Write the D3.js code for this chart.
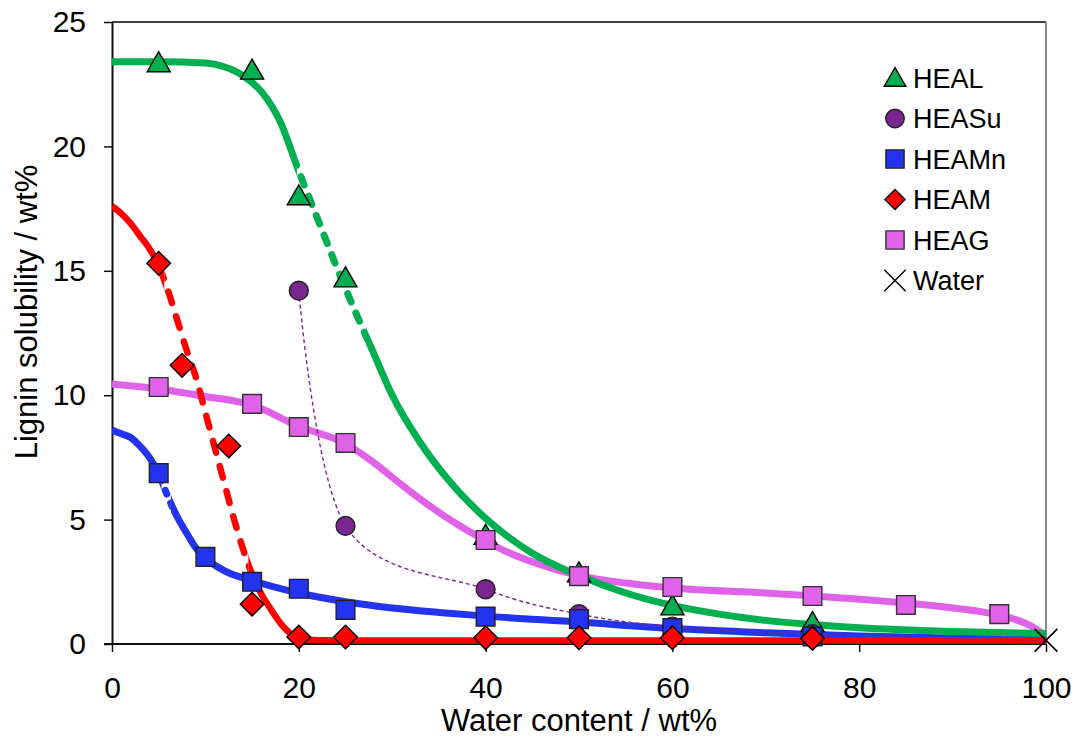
<!DOCTYPE html>
<html>
<head>
<meta charset="utf-8">
<script src="https://cdn.jsdelivr.net/npm/d3@7"></script>
<style>
  html, body { margin: 0; padding: 0; background: #fff; }
  svg { display: block; font-family: "Liberation Sans", Arial, sans-serif; }
</style>
</head>
<body>
<svg id="chart" width="1074" height="738"></svg>
<script>
// ---- measured points (water content wt%, lignin solubility wt%) ----
const healX  = [5, 15, 20, 25, 40, 50, 60, 75];
const healY  = [23.35, 23.05, 18.0, 14.7, 4.35, 2.85, 1.52, 0.85];
const heasuX = [20, 25, 40, 50, 60, 75];
const heasuY = [14.2, 4.75, 2.2, 1.2, 0.7, 0.4];
const heamnX = [5, 10, 15, 20, 25, 40, 50, 60, 75];
const heamnY = [6.87, 3.5, 2.5, 2.22, 1.37, 1.1, 1.0, 0.64, 0.3];
const heamX  = [5, 7.5, 12.5, 15, 20, 25, 40, 50, 60, 75];
const heamY  = [15.3, 11.2, 7.96, 1.6, 0.28, 0.28, 0.25, 0.25, 0.25, 0.22];
const heagX  = [5, 15, 20, 25, 40, 50, 60, 75, 85, 95];
const heagY  = [10.33, 9.65, 8.72, 8.08, 4.18, 2.73, 2.29, 1.93, 1.57, 1.2];
const waterX = [100];
const waterY = [0.15];

// ---- fitted trend curves ----
const healFitX = [0, 5, 10, 12, 14, 16, 18, 20, 22, 24, 26, 28, 30, 33, 36, 40, 45, 50, 55, 60, 65, 70, 75, 80, 90, 100];
const healFitY = [23.4, 23.4, 23.35, 23.2, 22.85, 22.2, 21.0, 19.0, 17.1, 15.2, 13.4, 11.7, 10.0, 8.1, 6.6, 5.05, 3.65, 2.75, 2.05, 1.55, 1.2, 0.95, 0.78, 0.65, 0.5, 0.42];
const heagFitX = [0, 5, 10, 15, 20, 25, 28, 31, 34, 37, 40, 42, 45, 50, 55, 60, 70, 80, 90, 93, 95, 97, 98.5, 99.5, 100];
const heagFitY = [10.45, 10.25, 9.95, 9.6, 8.75, 8.05, 7.3, 6.4, 5.55, 4.8, 4.15, 3.75, 3.3, 2.75, 2.45, 2.25, 2.05, 1.8, 1.45, 1.3, 1.15, 0.95, 0.7, 0.45, 0.3];
const heamnFitX = [0, 1, 2, 3, 4, 5, 6, 7, 8, 9, 10, 12, 15, 20, 25, 30, 35, 40, 50, 60, 70, 80, 90, 100];
const heamnFitY = [8.6, 8.45, 8.3, 7.95, 7.5, 6.85, 5.9, 5.1, 4.45, 3.85, 3.45, 2.95, 2.55, 2.05, 1.7, 1.45, 1.27, 1.12, 0.88, 0.62, 0.45, 0.32, 0.24, 0.2];
const heamFitX = [0, 1, 2, 3, 4, 5, 6, 7, 8, 9, 10, 11, 12, 13, 14, 15, 16, 17, 18, 19, 20, 21, 22, 25, 40, 60, 80, 100];
const heamFitY = [17.6, 17.3, 16.9, 16.4, 15.9, 15.2, 14.2, 13.0, 11.8, 10.7, 9.3, 7.9, 6.5, 5.1, 3.85, 2.8, 2.0, 1.4, 0.85, 0.45, 0.25, 0.17, 0.15, 0.14, 0.14, 0.14, 0.14, 0.14];

// stretches of the fitted curves drawn dashed (x from, x to)
const healDash  = [19.8, 27.2];
const heamDash  = [5.6, 14.6];
const heamnDash = [5.3, 6.3];

// ---- axes ----
const xTicks = [0, 20, 40, 60, 80, 100];
const yTicks = [0, 5, 10, 15, 20, 25];
const xTitle = "Water content / wt%";
const yTitle = "Lignin solubility / wt%";

const legendNames = ["HEAL", "HEASu", "HEAMn", "HEAM", "HEAG", "Water"];

const C = {
  green: "#00B050",
  purple: "#7B2590",
  blue: "#2433F0",
  red: "#FF0000",
  pink: "#E062E8"
};

const svg = d3.select("#chart");
const L = 112, R = 1046, T = 22, B = 644;
const x = d3.scaleLinear().domain([0, 100]).range([L, R]);
const y = d3.scaleLinear().domain([0, 25]).range([B, T]);

const zip = (xs, ys) => xs.map((v, i) => [v, ys[i]]);

// clip regions
const defs = svg.append("defs");
defs.append("clipPath").attr("id", "plot").append("rect")
  .attr("x", L).attr("y", T).attr("width", R - L).attr("height", B - T);
function addRangeClips(id, range) {
  const inside = defs.append("clipPath").attr("id", id + "-in");
  inside.append("rect").attr("x", x(range[0])).attr("y", 0)
    .attr("width", x(range[1]) - x(range[0])).attr("height", 738);
  const outside = defs.append("clipPath").attr("id", id + "-out");
  outside.append("rect").attr("x", 0).attr("y", 0).attr("width", x(range[0])).attr("height", 738);
  outside.append("rect").attr("x", x(range[1])).attr("y", 0)
    .attr("width", 1074 - x(range[1])).attr("height", 738);
}
addRangeClips("heal", healDash);
addRangeClips("heam", heamDash);
addRangeClips("heamn", heamnDash);

// ---- frame ----
svg.append("line").attr("x1", L).attr("x2", R).attr("y1", T).attr("y2", T)
  .attr("stroke", "#000").attr("stroke-width", 1.5);
svg.append("line").attr("x1", R).attr("x2", R).attr("y1", T).attr("y2", B)
  .attr("stroke", "#888").attr("stroke-width", 2);

// ---- axes ----
const xAxis = d3.axisBottom(x).tickValues(xTicks).tickSize(8).tickPadding(25).tickSizeOuter(0);
const yAxis = d3.axisLeft(y).tickValues(yTicks).tickSize(8).tickPadding(18).tickSizeOuter(0);

const gx = svg.append("g").attr("transform", `translate(0,${B})`).call(xAxis);
const gy = svg.append("g").attr("transform", `translate(${L},0)`).call(yAxis);
[gx, gy].forEach(g => {
  g.select(".domain").attr("stroke", "#111").attr("stroke-width", 2);
  g.selectAll(".tick line").attr("stroke", "#111").attr("stroke-width", 1.5);
  g.selectAll(".tick text").attr("fill", "#000").style("font-size", "30px")
    .style("font-family", "'Liberation Sans', Arial, sans-serif");
});
gx.select(".domain").attr("d", `M${L - 8},0H${R}`);

svg.append("text").attr("x", (L + R) / 2).attr("y", 731).attr("text-anchor", "middle")
  .style("font-size", "31px").text(xTitle);
svg.append("text").attr("transform", `translate(37,312) rotate(-90)`)
  .attr("text-anchor", "middle").style("font-size", "31px").text(yTitle);

// ---- fitted curves ----
const fitLine = d3.line().x(d => x(d[0])).y(d => y(d[1])).curve(d3.curveMonotoneX);
const plot = svg.append("g").attr("clip-path", "url(#plot)");

function drawFit(data, color, width, clipId, dash) {
  if (!clipId) {
    plot.append("path").attr("d", fitLine(data)).attr("fill", "none")
      .attr("stroke", color).attr("stroke-width", width);
    return;
  }
  plot.append("g").attr("clip-path", `url(#${clipId}-out)`).append("path")
    .attr("d", fitLine(data)).attr("fill", "none")
    .attr("stroke", color).attr("stroke-width", width);
  plot.append("g").attr("clip-path", `url(#${clipId}-in)`).append("path")
    .attr("d", fitLine(data)).attr("fill", "none")
    .attr("stroke", color).attr("stroke-width", width)
    .attr("stroke-linecap", "round").attr("stroke-dasharray", dash);
}

drawFit(zip(heagFitX, heagFitY), C.pink, 7);
drawFit(zip(heamnFitX, heamnFitY), C.blue, 7, "heamn", "4,10");
drawFit(zip(heamFitX, heamFitY), C.red, 6.5, "heam", "12,14");
drawFit(zip(healFitX, healFitY), C.green, 7, "heal", "9,12");

// HEASu joined through its measured points to the water point
const suLine = d3.line().x(d => x(d[0])).y(d => y(d[1])).curve(d3.curveCatmullRom.alpha(0));
plot.append("path")
  .attr("d", suLine(zip(heasuX.concat(waterX), heasuY.concat(waterY))))
  .attr("fill", "none").attr("stroke", C.purple).attr("stroke-width", 1.4)
  .attr("stroke-dasharray", "4,3");

// ---- markers ----
const sym = {
  tri: d3.symbol().type(d3.symbolTriangle).size(230),
  circ: d3.symbol().type(d3.symbolCircle).size(280),
  sq: d3.symbol().type(d3.symbolSquare).size(350),
  dia: d3.symbol().type(d3.symbolSquare).size(280),
  cross: d3.symbol().type(d3.symbolTimes).size(340)
};

function markers(xs, ys, shape, fill, stroke, rot, dy, sw) {
  svg.append("g").selectAll("path").data(zip(xs, ys)).join("path")
    .attr("d", shape)
    .attr("transform", d => `translate(${x(d[0])},${y(d[1]) + (dy || 0)}) rotate(${rot || 0})`)
    .attr("fill", fill).attr("stroke", stroke).attr("stroke-width", sw || 1.4);
}

markers(healX, healY, sym.tri(), C.green, "#000", 0, 2);
markers(heasuX, heasuY, sym.circ(), C.purple, "#222");
markers(heamnX, heamnY, sym.sq(), C.blue, "#222");
markers(heagX, heagY, sym.sq(), C.pink, "#333");
markers(heamX, heamY, sym.dia(), C.red, "#000", 45);
markers(waterX, waterY, sym.cross(), "none", "#000", 0, 0, 1.6);

// ---- legend ----
const lgX = 895, lgText = 913, lgY0 = 78, lgStep = 40.5;
const lgShapes = [
  { d: d3.symbol().type(d3.symbolTriangle).size(200)(), fill: C.green, stroke: "#000", rot: 0, dy: 2 },
  { d: d3.symbol().type(d3.symbolCircle).size(270)(), fill: C.purple, stroke: "#222", rot: 0, dy: 0 },
  { d: d3.symbol().type(d3.symbolSquare).size(330)(), fill: C.blue, stroke: "#222", rot: 0, dy: 0 },
  { d: d3.symbol().type(d3.symbolSquare).size(200)(), fill: C.red, stroke: "#000", rot: 45, dy: 0 },
  { d: d3.symbol().type(d3.symbolSquare).size(330)(), fill: C.pink, stroke: "#333", rot: 0, dy: 0 },
  { d: d3.symbol().type(d3.symbolTimes).size(300)(), fill: "none", stroke: "#000", rot: 0, dy: 0 }
];
const lg = svg.append("g");
legendNames.forEach((name, i) => {
  const cy = lgY0 + i * lgStep;
  const s = lgShapes[i];
  lg.append("path").attr("d", s.d)
    .attr("transform", `translate(${lgX},${cy + s.dy}) rotate(${s.rot})`)
    .attr("fill", s.fill).attr("stroke", s.stroke).attr("stroke-width", 1.4);
  lg.append("text").attr("x", lgText).attr("y", cy).attr("dy", "0.36em")
    .style("font-size", "27px").text(name);
});
</script>
</body>
</html>
